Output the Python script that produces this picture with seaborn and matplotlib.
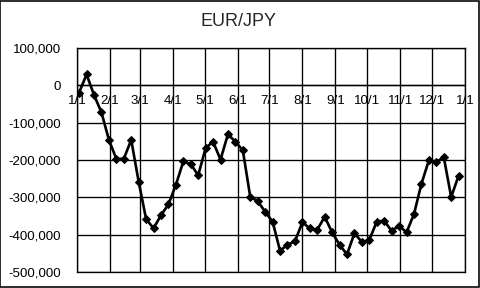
import matplotlib
matplotlib.use("Agg")
import matplotlib.pyplot as plt
import seaborn as sns
import pandas as pd
from matplotlib.patches import Rectangle

values = [-19400, 29200, -25800, -72500, -146000, -197000, -197000, -146000,
          -258000, -358000, -383000, -348000, -319000, -267000, -204000, -211000,
          -241000, -168000, -151000, -199000, -131000, -151000, -174000, -299000,
          -310000, -339000, -365000, -443000, -427000, -418000, -367000, -383000,
          -387000, -352000, -394000, -427000, -453000, -396000, -420000, -414000,
          -365000, -363000, -390000, -376000, -394000, -345000, -264000, -201000,
          -206000, -192000, -299000, -242000]
dates = pd.date_range("2010-01-03", periods=len(values), freq="7D")
month_ticks = pd.date_range("2010-01-01", "2011-01-01", freq="MS")
month_labels = ["1/1", "2/1", "3/1", "4/1", "5/1", "6/1", "7/1", "8/1",
                "9/1", "10/1", "11/1", "12/1", "1/1"]
yticks = [100000, 0, -100000, -200000, -300000, -400000, -500000]
title = "EUR/JPY"

sns.set_style("white")
plt.rcParams["font.family"] = ["Liberation Sans", "DejaVu Sans"]

fig = plt.figure(figsize=(5, 3), dpi=96)
ax = fig.add_axes([77 / 480, 16 / 288, 388 / 480, 224 / 288])
sns.lineplot(x=dates, y=values, ax=ax, color="black", lw=2, marker="D",
             markersize=4, markeredgecolor="black", zorder=3)
ax.set_xlim(month_ticks[0], month_ticks[-1])
ax.set_ylim(-500000, 100000)
ax.set_xticks(month_ticks)
ax.set_xticklabels(month_labels)
ax.set_yticks(yticks)
ax.set_yticklabels([f"{v:,}" for v in yticks])
ax.grid(True, color="black", lw=1)
for s in ax.spines.values():
    s.set_color("black")
    s.set_linewidth(1)
ax.spines["bottom"].set_position(("data", 0))
ax.axhline(-500000, color="black", lw=1, clip_on=False)
ax.tick_params(axis="x", length=0, pad=7, labelsize=10, colors="black")
ax.tick_params(axis="y", length=0, pad=12, labelsize=10, colors="black")
ax.set_xlabel("")
ax.set_ylabel("")

fig.text(239 / 480, 1 - 22 / 288, title, ha="center", va="center", fontsize=13.5)
fig.patches.append(Rectangle((0.001, 0.002), 0.997, 0.995, transform=fig.transFigure,
                             fill=False, lw=1.2, ec="black"))
fig.savefig("out.png", dpi=96)
